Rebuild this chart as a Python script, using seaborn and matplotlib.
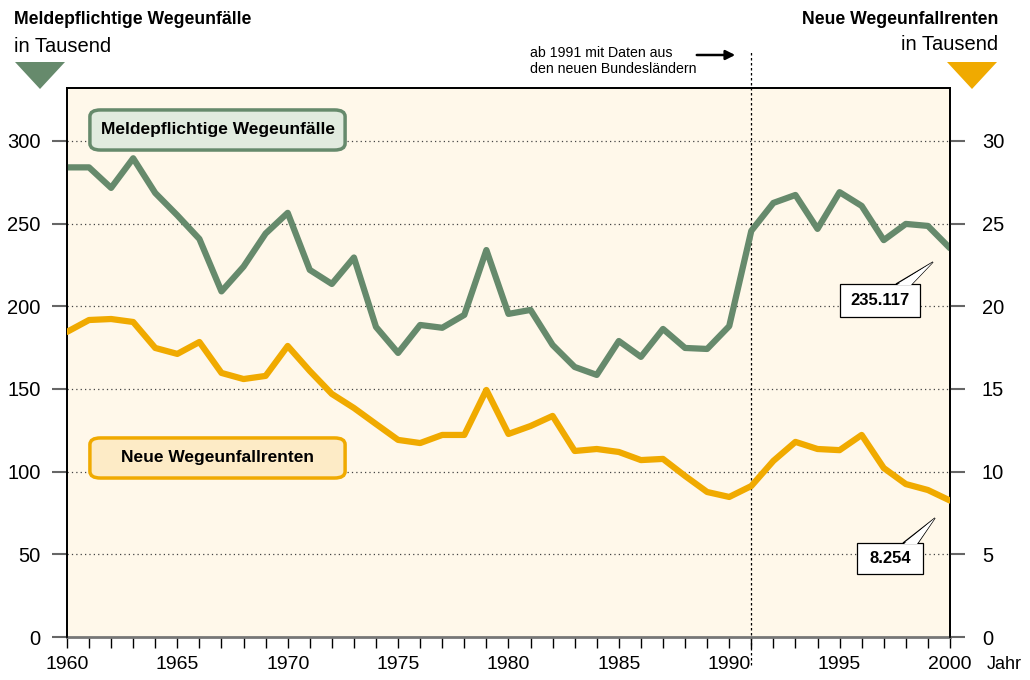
import numpy as np
import pandas as pd
import matplotlib
matplotlib.use("Agg")
import matplotlib.pyplot as plt
import seaborn as sns
from matplotlib.patches import FancyBboxPatch, Polygon

sns.set_style("white")
plt.rcParams['font.family'] = ['Liberation Sans', 'DejaVu Sans']
plt.rcParams['text.color'] = 'black'
plt.rcParams['xtick.labelcolor'] = 'black'
plt.rcParams['ytick.labelcolor'] = 'black'

years = list(range(1960, 2001))
# Meldepflichtige Wegeunfälle, in Tausend (left axis)
unfaelle = [284, 284, 271.6, 289.5, 268.5, 255, 240.7, 209, 224, 244,
            256.5, 222, 213.5, 229.5, 187.5, 171.8, 188.7, 187, 194.8, 234,
            195.4, 197.8, 176.6, 163.3, 158.5, 179, 169.4, 186.3, 174.8, 174.2,
            188, 245.6, 262.5, 267.3, 246.8, 269, 260.7, 240, 249.8, 248.6,
            235.117]
# Neue Wegeunfallrenten, in Tausend (right axis)
renten = [18.45, 19.17, 19.23, 19.05, 17.48, 17.12, 17.84, 15.97, 15.6, 15.79,
          17.6, 16.09, 14.7, 13.85, 12.88, 11.92, 11.73, 12.22, 12.22, 14.94,
          12.28, 12.76, 13.37, 11.25, 11.37, 11.19, 10.7, 10.77, 9.74, 8.77,
          8.47, 9.13, 10.65, 11.8, 11.37, 11.3, 12.22, 10.22, 9.25, 8.89,
          8.254]
left_ticks = [0, 50, 100, 150, 200, 250, 300]
right_ticks = [0, 5, 10, 15, 20, 25, 30]
year_labels = [1960, 1965, 1970, 1975, 1980, 1985, 1990, 1995, 2000]

df = pd.DataFrame({'Jahr': years, 'Unfaelle': unfaelle, 'Renten': renten})

GREEN = '#668a6c'
ORANGE = '#f0aa00'
BG = '#fff8ea'

fig = plt.figure(figsize=(10.3, 6.8), dpi=100)
ax = fig.add_axes([0.065, 0.0632, 0.8573, 0.8074])
ax.set_facecolor(BG)
ax2 = ax.twinx()

ax.set_xlim(1960, 2000)
ax.set_ylim(0, 332)
ax2.set_ylim(0, 33.2)

# gridlines
for t in left_ticks[1:]:
    ax.axhline(t, color='#444444', linestyle=(0, (1, 2.5)), linewidth=0.9, zorder=1)

sns.lineplot(data=df, x='Jahr', y='Unfaelle', ax=ax, color=GREEN, linewidth=4.5, zorder=3)
sns.lineplot(data=df, x='Jahr', y='Renten', ax=ax2, color=ORANGE, linewidth=4.5, zorder=3)

# vertical marker at 1991
ax.axvline(1991, ymin=-0.051, ymax=1.069, color='black', linestyle=(0, (2, 2)),
           linewidth=0.9, clip_on=False, zorder=2)

ax.set_xlabel('')
ax.set_ylabel('')
ax2.set_ylabel('')

ax.set_xticks(year_labels)
ax.set_xticks(years, minor=True)
ax.set_xticklabels([str(y) for y in year_labels], fontsize=14)
ax.tick_params(axis='x', which='both', bottom=True, direction='out', length=8, width=1,
               color='black', pad=6)

ax.set_yticks(left_ticks)
ax.set_yticklabels([str(t) for t in left_ticks], fontsize=14.5)
ax.tick_params(axis='y', left=True, direction='out', length=11, width=1.5, color='#666666', pad=8)
ax2.set_yticks(right_ticks)
ax2.set_yticklabels([str(t) for t in right_ticks], fontsize=14.5)
ax2.tick_params(axis='y', right=True, direction='out', length=11, width=1.5, color='#666666', pad=12)

for a in (ax, ax2):
    for s in a.spines.values():
        s.set_color('black')
        s.set_linewidth(1.3)
ax.spines['bottom'].set_color('#777777')
ax.spines['bottom'].set_linewidth(2)
ax2.spines['bottom'].set_visible(False)

fig.text(1004 / 1030, 0.0235, 'Jahr', fontsize=13, ha='center', va='center')

# legend boxes inside the plot
for (y0, h, fc, ec, label) in [(0.887, 0.073, '#e1ebdf', GREEN, 'Meldepflichtige Wegeunfälle'),
                               (0.2896, 0.073, '#fdebc6', ORANGE, 'Neue Wegeunfallrenten')]:
    box = FancyBboxPatch((0.026, y0), 0.289, h, boxstyle='round,pad=0,rounding_size=0.012',
                         transform=ax.transAxes, fc=fc, ec=ec, lw=2.5, zorder=5)
    ax.add_patch(box)
    ax.text(0.1705, y0 + h / 2, label, transform=ax.transAxes, ha='center', va='center',
            fontsize=12.5, fontweight='bold', zorder=6)

# callouts for final values
def callout(text, box_xy_px, box_wh_px, tip_px, base_px):
    x0, y0 = box_xy_px
    w, h = box_wh_px
    tr = fig.transFigure
    def f(px, py):
        return (px / 1030, 1 - py / 680)
    fig.add_artist(Polygon([f(*base_px[0]), f(*tip_px), f(*base_px[1])], closed=True,
                           transform=tr, fc='white', ec='black', lw=0.9, zorder=7))
    fig.add_artist(plt.Rectangle(f(x0, y0 + h), w / 1030, h / 680, transform=tr,
                                 fc='white', ec='black', lw=0.9, zorder=8))
    fig.add_artist(Polygon([f(base_px[0][0] + 1, base_px[0][1] + 1), f(*tip_px),
                            f(base_px[1][0] - 1, base_px[1][1] + 1)], closed=True,
                           transform=tr, fc='white', ec='none', zorder=9))
    fig.text((x0 + w / 2) / 1030, 1 - (y0 + h / 2) / 680, text, fontsize=12,
             fontweight='bold', ha='center', va='center', zorder=10)

callout('235.117', (840, 284), (80, 33), (933, 262), [(896, 284), (912, 284)])
callout('8.254', (857, 543), (66, 31), (935, 518), [(903, 543), (918, 543)])

# header texts and triangles
fig.text(14 / 1030, 1 - 20 / 680, 'Meldepflichtige Wegeunfälle', fontsize=12.7,
         fontweight='bold', ha='left', va='center')
fig.text(14 / 1030, 1 - 46 / 680, 'in Tausend', fontsize=14.5, ha='left', va='center')
fig.text(998 / 1030, 1 - 20 / 680, 'Neue Wegeunfallrenten', fontsize=12.7,
         fontweight='bold', ha='right', va='center')
fig.text(998 / 1030, 1 - 45 / 680, 'in Tausend', fontsize=14.5, ha='right', va='center')

def tri(cx, color):
    pts = [((cx - 25) / 1030, 1 - 62 / 680), ((cx + 25) / 1030, 1 - 62 / 680),
           (cx / 1030, 1 - 89 / 680)]
    fig.add_artist(Polygon(pts, closed=True, transform=fig.transFigure, fc=color, ec='none'))

tri(40, GREEN)
tri(972, ORANGE)

fig.text(530 / 1030, 1 - 61 / 680, 'ab 1991 mit Daten aus\nden neuen Bundesländern',
         fontsize=10.2, ha='left', va='center', linespacing=1.1)
ax.annotate('', xy=(738 / 1030, 1 - 55 / 680), xytext=(694 / 1030, 1 - 55 / 680),
            xycoords='figure fraction', textcoords='figure fraction',
            arrowprops=dict(arrowstyle='-|>', color='black', lw=1.8, mutation_scale=14))

fig.savefig('out.png', dpi=100)
